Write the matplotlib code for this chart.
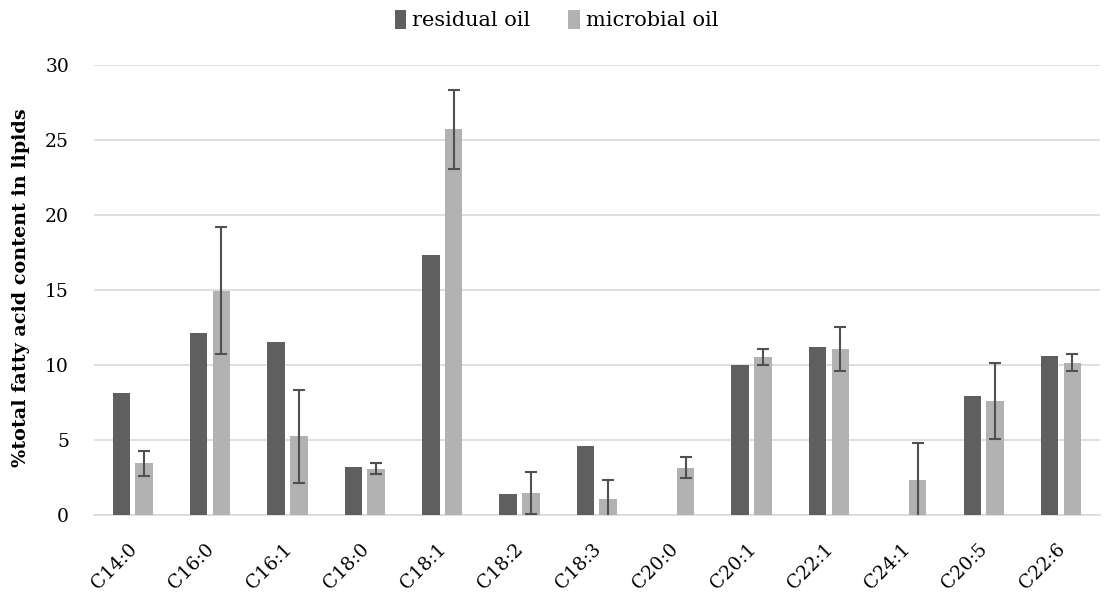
import matplotlib
matplotlib.use("Agg")
import matplotlib.pyplot as plt
import matplotlib.transforms as mtransforms
import numpy as np

categories = ["C14:0", "C16:0", "C16:1", "C18:0", "C18:1", "C18:2", "C18:3",
              "C20:0", "C20:1", "C22:1", "C24:1", "C20:5", "C22:6"]
residual_oil = [8.1, 12.1, 11.5, 3.2, 17.3, 1.4, 4.6, 0.0, 10.0, 11.2, 0.0, 7.95, 10.6]
microbial_oil = [3.45, 14.95, 5.25, 3.08, 25.7, 1.45, 1.05, 3.15, 10.52, 11.05, 2.33, 7.6, 10.15]
microbial_err = [0.83, 4.2, 3.1, 0.37, 2.63, 1.4, 1.3, 0.7, 0.55, 1.47, 2.46, 2.54, 0.55]
yticks = [0, 5, 10, 15, 20, 25, 30]

dark = "#5f5f5f"
light = "#b2b2b2"
font = "DejaVu Serif"
plt.rcParams["font.family"] = [font]

fig = plt.figure(figsize=(11.13, 5.92), dpi=100)
ax = fig.add_axes([0.0845, 0.130, 0.9035, 0.761])

x = np.arange(len(categories))
w = 0.226
off = 0.147
ax.bar(x - off, residual_oil, w, color=dark, label="residual oil", zorder=3)
ax.bar(x + off, microbial_oil, w, color=light, label="microbial oil", zorder=3)
ax.errorbar(x + off, microbial_oil, yerr=microbial_err, fmt="none",
            ecolor="#505050", elinewidth=1.5, capsize=4.3, capthick=1.5, zorder=4)

ax.set_xlim(-0.5, len(categories) - 0.5)
ax.set_ylim(0, 30)
ax.set_yticks(yticks)
ax.yaxis.grid(True, color="#d9d9d9", linewidth=1.2, zorder=0)
ax.set_axisbelow(True)
for s in ["top", "right", "left"]:
    ax.spines[s].set_visible(False)
ax.spines["bottom"].set_color("#d9d9d9")
ax.spines["bottom"].set_linewidth(1.2)
ax.tick_params(axis="both", length=0, labelsize=13.5, colors="black")
ax.tick_params(axis="y", pad=18)

ax.set_xticks(x)
ax.set_xticklabels(categories, rotation=45, ha="right", rotation_mode="anchor", fontsize=13.5)
shift = mtransforms.ScaledTranslation(-5 / 100, -20 / 100, fig.dpi_scale_trans)
for lbl in ax.get_xticklabels():
    lbl.set_transform(lbl.get_transform() + shift)

ax.set_ylabel("%total fatty acid content in lipids", fontsize=13.8, fontweight="bold")
ax.yaxis.set_label_coords(-0.064, 0.505)

fig.legend(loc="center", bbox_to_anchor=(0.5, 0.966), ncol=2, frameon=False,
           fontsize=15, handlelength=0.55, handleheight=1.0, handletextpad=0.3,
           columnspacing=1.8)

fig.savefig("out.png", dpi=100)
